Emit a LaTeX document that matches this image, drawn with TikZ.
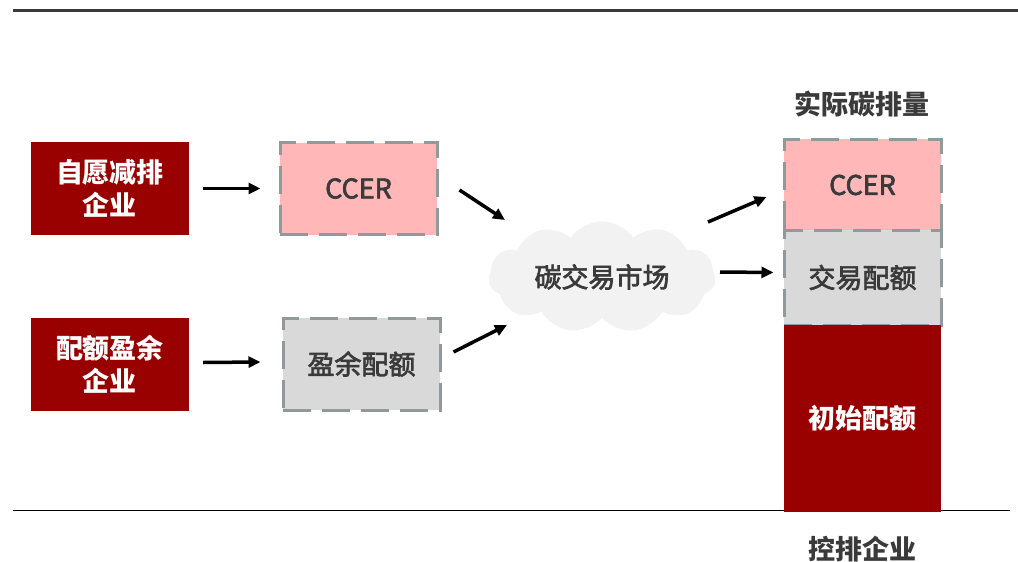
\documentclass[tikz,border=0pt]{standalone}
\usepackage{fontspec}
\setmainfont{Noto Sans CJK SC}
\newfontfamily\medfont[FakeBold=2.5]{Noto Sans CJK SC}
\usetikzlibrary{arrows.meta,shapes.symbols}

\definecolor{darkred}{HTML}{990000}
\definecolor{pinkfill}{HTML}{FFB7B7}
\definecolor{grayfill}{HTML}{D9D9D9}
\definecolor{dashgray}{HTML}{92999D}
\definecolor{cloudgray}{HTML}{F2F2F2}
\definecolor{txtgray}{HTML}{3A3A3A}

\begin{document}
\begin{tikzpicture}[x=1pt,y=-1pt,
  font=\fontsize{27}{33}\selectfont,
  redbox/.style={fill=darkred,text=white,font=\fontsize{27}{33}\selectfont\bfseries,
    align=center,minimum width=158,minimum height=93,inner sep=0},
  dashbox/.style={draw=dashgray,line width=3,dash pattern=on 28 off 11,
    text=txtgray,font=\fontsize{27}{33}\selectfont\medfont,
    minimum width=157,minimum height=92,inner sep=0},
  lbl/.style={text=txtgray,font=\fontsize{27}{33}\selectfont\bfseries},
  arr/.style={line width=3.5,-{Triangle[length=12,width=11]}}]
  \useasboundingbox (0,0) rectangle (1018,562);
  % Lignes
  \draw[line width=3,color=txtgray] (13,10) -- (1018,10);
  \draw[line width=1] (13,510) -- (1010,510);
  % Entreprises
  \node[redbox] (zy) at (110,188.5) {自愿减排\\企业};
  \node[redbox] (py) at (110,364.5) {配额盈余\\企业};
  \node[dashbox,fill=pinkfill] (ccer) at (358.5,188.5) {CCER};
  \node[dashbox,fill=grayfill] (yy) at (361.5,364) {盈余配额};
  % Marche
  \node[cloud,cloud puffs=11,cloud puff arc=110,aspect=2.2,fill=cloudgray,
    minimum width=227,minimum height=105,inner sep=0,text=txtgray,
    font=\fontsize{27}{33}\selectfont\medfont] (mkt) at (602,277) {碳交易市场};
  % Pile a droite
  \node[dashbox,fill=pinkfill,minimum height=92] (rccer) at (862.5,185) {CCER};
  \node[dashbox,fill=grayfill,minimum height=95] (rjy) at (862.5,277.5) {交易配额};
  \node[fill=darkred,text=white,font=\fontsize{27}{33}\selectfont\bfseries,
    minimum width=157,minimum height=187,inner sep=0] (rcs) at (862.5,418.5) {\raisebox{-6pt}{初始配额}};
  \node[lbl] (sj) at (862,104) {实际碳排量};
  \node[lbl] (kp) at (862,549) {控排企业};
  % Fleches
  \draw[arr] ([shift={(14,0)}]zy.east) -- ([shift={(-18,0)}]ccer.west);
  \draw[arr] ([shift={(14,-2)}]py.east) -- ([shift={(-21,-2)}]yy.west);
  \draw[arr] ([shift={(21,1.5)}]ccer.east) -- ([shift={(-97,-57)}]mkt.center);
  \draw[arr] ([shift={(12,-12)}]yy.east) -- ([shift={(-95,48)}]mkt.center);
  \draw[arr] ([shift={(106,-55)}]mkt.center) -- ([shift={(-16,12)}]rccer.west);
  \draw[arr] ([shift={(118,-5)}]mkt.center) -- ([shift={(-9,-5)}]rjy.west);
\end{tikzpicture}
\end{document}
